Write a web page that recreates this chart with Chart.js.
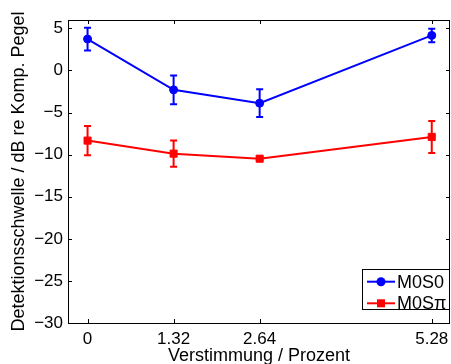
<!DOCTYPE html>
<html>
<head>
<meta charset="utf-8">
<script src="https://cdn.jsdelivr.net/npm/chart.js@4.4.1/dist/chart.umd.min.js"></script>
<style>
html, body { margin: 0; padding: 0; background: #fff; }
#wrap { width: 451px; height: 364px; }
</style>
</head>
<body>
<div id="wrap"><canvas id="thresholdChart"></canvas></div>
<script>
// DATA
const detuning = [0, 1.32, 2.64, 5.28];
const xTickLabels = ['0', '1.32', '2.64', '5.28'];
const yTicks = [-30, -25, -20, -15, -10, -5, 0, 5];
const seriesNames = ['M0S0', 'M0S\u03c0'];

const m0s0 = [3.74, -2.3, -3.88, 4.17];
const m0s0Err = [1.35, 1.7, 1.65, 0.8];

const m0spi = [-8.33, -9.88, -10.48, -7.89];
const m0spiErr = [1.75, 1.55, 0.25, 1.9];

const errors = [m0s0Err, m0spiErr];

Chart.defaults.font.family = '"Liberation Sans", Arial, Helvetica, sans-serif';
Chart.defaults.color = '#000';

function toPoints(values) {
    return detuning.map((x, i) => ({ x: x, y: values[i] }));
}

// error bars, drawn through the chart scales
const errorBars = {
    id: 'errorBars',
    afterDatasetsDraw(chart) {
        const ctx = chart.ctx;
        const xs = chart.scales.x;
        const ys = chart.scales.y;
        ctx.save();
        chart.data.datasets.forEach((ds, i) => {
            ctx.strokeStyle = ds.borderColor;
            ctx.lineWidth = 2;
            ds.data.forEach((p, j) => {
                const e = errors[i][j];
                const px = xs.getPixelForValue(p.x);
                const top = ys.getPixelForValue(p.y + e);
                const bot = ys.getPixelForValue(p.y - e);
                ctx.beginPath();
                ctx.moveTo(px, top);
                ctx.lineTo(px, bot);
                ctx.moveTo(px - 3.5, top);
                ctx.lineTo(px + 3.5, top);
                ctx.moveTo(px - 3.5, bot);
                ctx.lineTo(px + 3.5, bot);
                ctx.stroke();
            });
        });
        ctx.restore();
    }
};

// box around the axes with inward ticks on all sides
const axesBox = {
    id: 'axesBox',
    afterDraw(chart) {
        const ctx = chart.ctx;
        const a = chart.chartArea;
        const xs = chart.scales.x;
        const ys = chart.scales.y;
        const len = 4;
        ctx.save();
        ctx.strokeStyle = '#000';
        ctx.lineWidth = 1;
        ctx.strokeRect(Math.round(a.left) + 0.5, Math.round(a.top) + 0.5,
            Math.round(a.right - a.left) - 1, Math.round(a.bottom - a.top));
        ctx.beginPath();
        detuning.forEach(v => {
            const px = Math.round(xs.getPixelForValue(v)) + 0.5;
            ctx.moveTo(px, a.bottom);
            ctx.lineTo(px, a.bottom - len);
            ctx.moveTo(px, a.top);
            ctx.lineTo(px, a.top + len);
        });
        yTicks.forEach(v => {
            const py = Math.round(ys.getPixelForValue(v)) + 0.5;
            ctx.moveTo(a.left, py);
            ctx.lineTo(a.left + len, py);
            ctx.moveTo(a.right, py);
            ctx.lineTo(a.right - len, py);
        });
        ctx.stroke();
        ctx.restore();
    }
};

// MATLAB style legend in the lower right corner
const legendBox = {
    id: 'legendBox',
    afterDraw(chart) {
        const ctx = chart.ctx;
        const a = chart.chartArea;
        const w = 88, h = 41;
        const x0 = Math.round(a.right - w);
        const y0 = Math.round(a.bottom - 13 - h);
        ctx.save();
        ctx.fillStyle = '#fff';
        ctx.fillRect(x0, y0, w, h);
        ctx.strokeStyle = '#000';
        ctx.lineWidth = 1;
        ctx.strokeRect(x0 + 0.5, y0 + 0.5, w - 1, h - 1);
        chart.data.datasets.forEach((ds, i) => {
            const cy = y0 + 12.7 + i * 21.6;
            ctx.strokeStyle = ds.borderColor;
            ctx.fillStyle = ds.borderColor;
            ctx.lineWidth = 2;
            ctx.beginPath();
            ctx.moveTo(x0 + 5, cy);
            ctx.lineTo(x0 + 33, cy);
            ctx.stroke();
            if (ds.pointStyle === 'rect') {
                ctx.fillRect(x0 + 15, cy - 4, 8, 8);
            } else {
                ctx.beginPath();
                ctx.arc(x0 + 19, cy, 4.5, 0, Math.PI * 2);
                ctx.fill();
            }
            ctx.fillStyle = '#000';
            ctx.font = '18px "Liberation Sans", Arial, sans-serif';
            ctx.textBaseline = 'middle';
            ctx.textAlign = 'left';
            ctx.fillText(ds.label, x0 + 35, cy + 1);
        });
        ctx.restore();
    }
};

const ctx = document.getElementById('thresholdChart');

new Chart(ctx, {
    type: 'line',
    data: {
        datasets: [
            {
                label: seriesNames[0],
                data: toPoints(m0s0),
                borderColor: '#0000ff',
                backgroundColor: '#0000ff',
                borderWidth: 2,
                pointStyle: 'circle',
                pointRadius: 4,
                pointBorderWidth: 1,
                tension: 0
            },
            {
                label: seriesNames[1],
                data: toPoints(m0spi),
                borderColor: '#ff0000',
                backgroundColor: '#ff0000',
                borderWidth: 2,
                pointStyle: 'rect',
                pointRadius: 5,
                pointBorderWidth: 1,
                tension: 0
            }
        ]
    },
    options: {
        responsive: true,
        maintainAspectRatio: false,
        animation: false,
        layout: {
            autoPadding: false,
            padding: { top: 20, right: 1, left: 0, bottom: 0 }
        },
        plugins: {
            legend: { display: false },
            tooltip: { enabled: false }
        },
        scales: {
            x: {
                type: 'linear',
                min: -0.3,
                max: 5.56,
                grid: { display: false, drawTicks: false },
                border: { display: false },
                afterBuildTicks: s => { s.ticks = detuning.map(v => ({ value: v })); },
                afterFit: s => {
                    s.height = 41;
                    s.paddingLeft = 0;
                    s.paddingRight = 0;
                },
                ticks: {
                    padding: 6,
                    maxRotation: 0,
                    autoSkip: false,
                    font: { size: 17 },
                    callback: (v, i) => xTickLabels[i]
                },
                title: {
                    display: true,
                    text: 'Verstimmung / Prozent',
                    font: { size: 18 },
                    padding: { top: 0, bottom: -3 }
                }
            },
            y: {
                min: -30,
                max: 6,
                grid: { display: false, drawTicks: false },
                border: { display: false },
                afterBuildTicks: s => { s.ticks = yTicks.map(v => ({ value: v })); },
                afterFit: s => {
                    s.width = 68;
                    s.paddingTop = 0;
                    s.paddingBottom = 0;
                },
                ticks: {
                    padding: 5,
                    font: { size: 17 },
                    callback: v => (v < 0 ? '\u2212' + Math.abs(v) : String(v))
                },
                title: {
                    display: true,
                    text: 'Detektionsschwelle / dB re Komp. Pegel',
                    font: { size: 18 },
                    padding: { top: 8, bottom: 0 }
                }
            }
        }
    },
    plugins: [errorBars, axesBox, legendBox]
});
</script>
</body>
</html>
